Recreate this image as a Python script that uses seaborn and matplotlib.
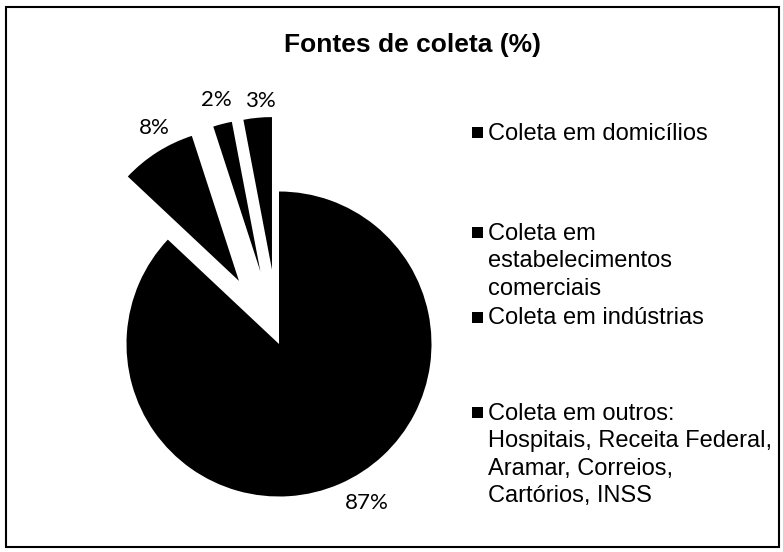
import matplotlib
matplotlib.use("Agg")
import matplotlib.pyplot as plt
import matplotlib.patches as mpatches
import seaborn as sns

# chart data
categories = [
    "Coleta em domicílios",
    "Coleta em\nestabelecimentos\ncomerciais",
    "Coleta em indústrias",
    "Coleta em outros:\nHospitais, Receita Federal,\nAramar, Correios,\nCartórios, INSS",
]
values = [87, 8, 2, 3]
title = "Fontes de coleta (%)"

sns.set_theme(style="white")
plt.rcParams["font.family"] = ["Liberation Sans", "DejaVu Sans"]

W, H = 783, 552
fig = plt.figure(figsize=(W / 100, H / 100), dpi=100)
fig.patch.set_facecolor("white")

# pie axes: centre (279, 344) px, radius 152.5 px
R = 152.5
cx, cy = 279, 344
x0, x1, y0, y1 = 100, 460, 80, 530
ax = fig.add_axes([x0 / W, (H - y1) / H, (x1 - x0) / W, (y1 - y0) / H])

wedges, texts, autotexts = ax.pie(
    values,
    explode=[0, 0.49, 0.49, 0.49],
    startangle=90,
    counterclock=False,
    colors=["black"] * len(values),
    autopct=lambda p: f"{p:.0f}%",
    pctdistance=1.16,
    wedgeprops=dict(linewidth=0),
    textprops=dict(color="black", fontsize=16, family=["Lato", "DejaVu Sans"]),
)
# small nudges so the labels sit where Excel put them (in pixels)
nudges = [(18, 3), (10, 4), (0, 0), (5, -8)]
for t, (dx, dy) in zip(autotexts, nudges):
    px, py = t.get_position()
    t.set_position((px + dx / R, py + dy / R))

ax.set_xlim((x0 - cx) / R, (x1 - cx) / R)
ax.set_ylim((cy - y1) / R, (cy - y0) / R)
ax.set_aspect("equal")
ax.axis("off")

# title
fig.text(412 / W, 1 - 52 / H, title, ha="center", va="baseline",
         fontsize=19, fontweight="bold", color="black")

# legend, laid out like the original
first_line_y = [132, 232, 317, 412]
for lab, yc in zip(categories, first_line_y):
    fig.patches.append(mpatches.Rectangle(
        (472 / W, 1 - (yc + 5.5) / H), 11 / W, 11 / H,
        transform=fig.transFigure, facecolor="black", edgecolor="none"))
    fig.text(488 / W, 1 - (yc - 9.5) / H, lab, ha="left", va="top",
             fontsize=17, color="black", linespacing=1.33)

# chart border
fig.patches.append(mpatches.Rectangle(
    (6 / W, 1 - 547 / H), (779 - 6) / W, (547 - 7) / H,
    transform=fig.transFigure, fill=False, edgecolor="black", linewidth=1.5))

fig.savefig("out.png", dpi=100)
